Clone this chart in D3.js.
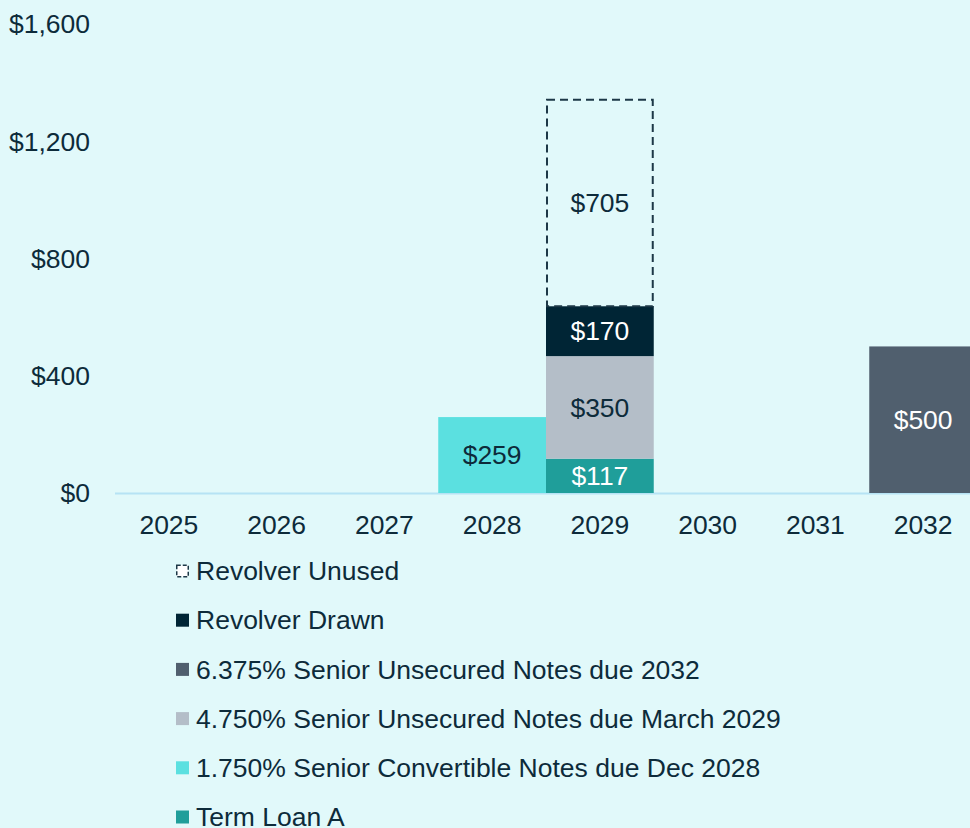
<!DOCTYPE html>
<html>
<head>
<meta charset="utf-8">
<script src="https://cdn.jsdelivr.net/npm/d3@7"></script>
<style>
  html, body { margin: 0; padding: 0; background: #e1f9fa; }
  svg { display: block; font-family: "Liberation Sans", Arial, sans-serif; }
</style>
</head>
<body>
<svg id="chart" width="970" height="828"></svg>
<script>
// maturity schedule, $ millions
var years = ["2025", "2026", "2027", "2028", "2029", "2030", "2031", "2032"];
var seriesNames = [
    "Term Loan A",
    "1.750% Senior Convertible Notes due Dec 2028",
    "4.750% Senior Unsecured Notes due March 2029",
    "6.375% Senior Unsecured Notes due 2032",
    "Revolver Drawn",
    "Revolver Unused"
];
var termLoanA   = [0, 0, 0, 0,   117, 0, 0, 0];
var convertible = [0, 0, 0, 259, 0,   0, 0, 0];
var notes2029   = [0, 0, 0, 0,   350, 0, 0, 0];
var notes2032   = [0, 0, 0, 0,   0,   0, 0, 500];
var revDrawn    = [0, 0, 0, 0,   170, 0, 0, 0];
var revUnused   = [0, 0, 0, 0,   705, 0, 0, 0];
var yTicks = [0, 400, 800, 1200, 1600];

var colors = ["#1f9e9a", "#5be0e0", "#b4bec8", "#505f6e", "#002535", "none"];
var labelColors = ["#ffffff", "#0d2b3a", "#0d2b3a", "#ffffff", "#ffffff", "#0d2b3a"];
var textColor = "#0d2b3a";
var fontSize = "26.5px";

var allSeries = [termLoanA, convertible, notes2029, notes2032, revDrawn, revUnused];

var table = years.map(function(y, i) {
    var row = { year: y };
    seriesNames.forEach(function(n, k) { row[n] = allSeries[k][i]; });
    return row;
});

var stacked = d3.stack().keys(seriesNames)(table);

var svg = d3.select("#chart");

var x = d3.scaleBand().domain(years).range([115, 977]).padding(0);
var y = d3.scaleLinear().domain([0, 1600]).range([493, 24]);

// y axis labels
svg.append("g")
    .selectAll("text")
    .data(yTicks)
    .enter().append("text")
        .attr("x", 90)
        .attr("y", d => y(d))
        .attr("dy", "0.35em")
        .attr("text-anchor", "end")
        .attr("font-size", fontSize)
        .attr("fill", textColor)
        .text(d => "$" + d3.format(",")(d));

// baseline (sits under the bars)
svg.append("line")
    .attr("x1", x.range()[0])
    .attr("x2", 970)
    .attr("y1", y(0) + 0.5)
    .attr("y2", y(0) + 0.5)
    .attr("stroke", "#b6e3f4")
    .attr("stroke-width", 2);

// bars
var layers = svg.append("g")
    .selectAll("g")
    .data(stacked)
    .enter().append("g");

layers.selectAll("rect")
    .data(function(d) { return d.map(function(p) { p.idx = d.index; return p; }).filter(p => p[1] - p[0] > 0); })
    .enter().append("rect")
        .attr("x", d => x(d.data.year) + (d.idx === 5 ? 1 : 0))
        .attr("width", d => x.bandwidth() - (d.idx === 5 ? 2 : 0))
        .attr("y", d => y(d[1]))
        .attr("height", d => y(d[0]) - y(d[1]))
        .attr("fill", d => colors[d.idx])
        .attr("stroke", d => d.idx === 5 ? "#1d3847" : "none")
        .attr("stroke-width", 2)
        .attr("stroke-dasharray", d => d.idx === 5 ? "8,5" : null);

// value labels
layers.selectAll("text")
    .data(function(d) { return d.filter(p => p[1] - p[0] > 0); })
    .enter().append("text")
        .attr("x", d => x(d.data.year) + x.bandwidth() / 2)
        .attr("y", d => (y(d[0]) + y(d[1])) / 2)
        .attr("dy", "0.35em")
        .attr("text-anchor", "middle")
        .attr("font-size", fontSize)
        .attr("fill", d => labelColors[d.idx])
        .text(d => "$" + d3.format(",")(d[1] - d[0]));

// x axis labels
svg.append("g")
    .selectAll("text")
    .data(years)
    .enter().append("text")
        .attr("x", d => x(d) + x.bandwidth() / 2)
        .attr("y", 525)
        .attr("dy", "0.35em")
        .attr("text-anchor", "middle")
        .attr("font-size", fontSize)
        .attr("fill", textColor)
        .text(d => d);

// legend (reverse order)
var legendOrder = seriesNames.map((n, i) => i).reverse();
var legend = svg.append("g")
    .selectAll("g")
    .data(legendOrder)
    .enter().append("g")
        .attr("transform", (d, i) => "translate(176," + (571 + i * 49.2) + ")");

legend.append("rect")
    .attr("x", d => d === 5 ? 0.75 : 0)
    .attr("y", d => d === 5 ? -5.75 : -6.5)
    .attr("width", d => d === 5 ? 11.5 : 13)
    .attr("height", d => d === 5 ? 11.5 : 13)
    .attr("fill", d => d === 5 ? "#ffffff" : colors[d])
    .attr("stroke", d => d === 5 ? "#1d3847" : "none")
    .attr("stroke-width", 1.5)
    .attr("stroke-dasharray", d => d === 5 ? "4,2" : null);

legend.append("text")
    .attr("x", 20)
    .attr("y", 0)
    .attr("dy", "0.35em")
    .attr("font-size", fontSize)
    .attr("fill", textColor)
    .text(d => seriesNames[d]);
</script>
</body>
</html>
